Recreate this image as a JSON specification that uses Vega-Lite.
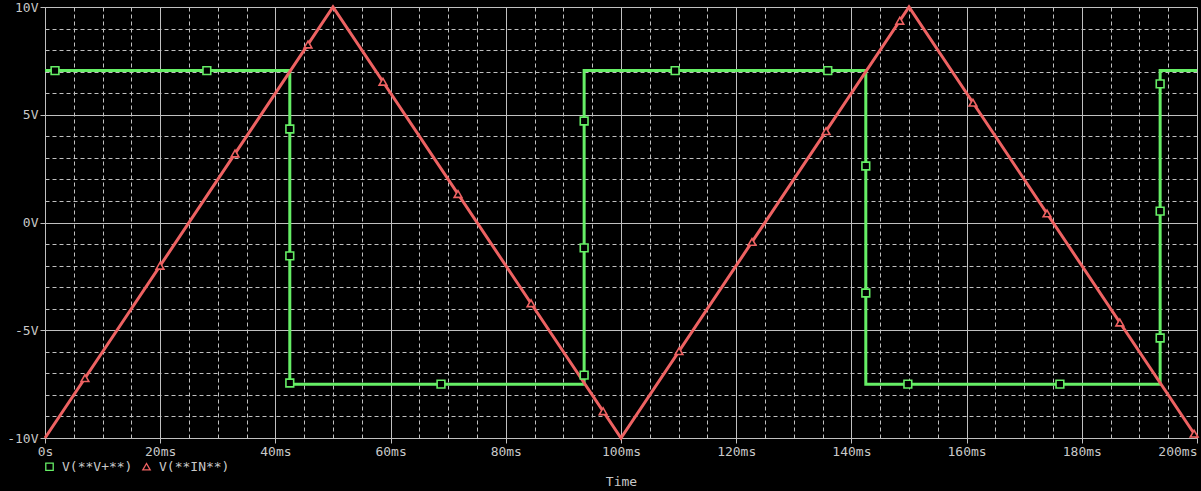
{
  "$schema": "https://vega.github.io/schema/vega-lite/v6.json",
  "background": "black",
  "autosize": {"type": "none"},
  "padding": {"left": 45, "top": 7, "right": 4, "bottom": 53},
  "width": 1152,
  "height": 431,
  "config": {
    "view": {"stroke": null},
    "axis": {
      "domainColor": "#c0c0c0",
      "gridColor": "#c0c0c0",
      "tickColor": "#c0c0c0",
      "labelFont": "DejaVu Sans Mono",
      "labelFontSize": 13,
      "labelColor": "#c8c8c8",
      "titleFont": "DejaVu Sans Mono",
      "titleFontSize": 13,
      "titleColor": "#c8c8c8",
      "titleFontWeight": "normal",
      "gridOpacity": 1,
      "gridWidth": 1
    },
    "legend": {
      "labelFont": "DejaVu Sans Mono",
      "labelFontSize": 13,
      "labelColor": "#c8c8c8"
    }
  },
  "datasets": {
    "lines": [
      {"series": "V(**V+**)", "step": 0, "t": 0, "v": 7.05},
      {"series": "V(**V+**)", "step": 1, "t": 42.5, "v": 7.05},
      {"series": "V(**V+**)", "step": 2, "t": 42.5, "v": -7.5},
      {"series": "V(**V+**)", "step": 3, "t": 93.6, "v": -7.5},
      {"series": "V(**V+**)", "step": 4, "t": 93.6, "v": 7.05},
      {"series": "V(**V+**)", "step": 5, "t": 142.5, "v": 7.05},
      {"series": "V(**V+**)", "step": 6, "t": 142.5, "v": -7.5},
      {"series": "V(**V+**)", "step": 7, "t": 193.6, "v": -7.5},
      {"series": "V(**V+**)", "step": 8, "t": 193.6, "v": 7.05},
      {"series": "V(**V+**)", "step": 9, "t": 200, "v": 7.05},
      {"series": "V(**IN**)", "step": 0, "t": 0, "v": -10},
      {"series": "V(**IN**)", "step": 1, "t": 50, "v": 10},
      {"series": "V(**IN**)", "step": 2, "t": 100, "v": -10},
      {"series": "V(**IN**)", "step": 3, "t": 150, "v": 10},
      {"series": "V(**IN**)", "step": 4, "t": 200, "v": -10}
    ],
    "markers": [
      {"series": "V(**V+**)", "t": 1.74, "v": 7.05},
      {"series": "V(**V+**)", "t": 28.1, "v": 7.05},
      {"series": "V(**V+**)", "t": 42.5, "v": 4.34},
      {"series": "V(**V+**)", "t": 42.5, "v": -1.55},
      {"series": "V(**V+**)", "t": 42.5, "v": -7.45},
      {"series": "V(**V+**)", "t": 68.75, "v": -7.5},
      {"series": "V(**V+**)", "t": 93.6, "v": 4.71},
      {"series": "V(**V+**)", "t": 93.6, "v": -1.18},
      {"series": "V(**V+**)", "t": 93.6, "v": -7.08},
      {"series": "V(**V+**)", "t": 109.4, "v": 7.05},
      {"series": "V(**V+**)", "t": 135.9, "v": 7.05},
      {"series": "V(**V+**)", "t": 142.5, "v": 2.62},
      {"series": "V(**V+**)", "t": 142.5, "v": -3.27},
      {"series": "V(**V+**)", "t": 149.8, "v": -7.5},
      {"series": "V(**V+**)", "t": 176.2, "v": -7.5},
      {"series": "V(**V+**)", "t": 193.6, "v": 6.43},
      {"series": "V(**V+**)", "t": 193.6, "v": 0.53},
      {"series": "V(**V+**)", "t": 193.6, "v": -5.36},
      {"series": "V(**IN**)", "t": 6.94, "v": -7.22},
      {"series": "V(**IN**)", "t": 19.97, "v": -2.01},
      {"series": "V(**IN**)", "t": 32.99, "v": 3.2},
      {"series": "V(**IN**)", "t": 45.66, "v": 8.26},
      {"series": "V(**IN**)", "t": 58.68, "v": 6.53},
      {"series": "V(**IN**)", "t": 71.7, "v": 1.32},
      {"series": "V(**IN**)", "t": 84.38, "v": -3.75},
      {"series": "V(**IN**)", "t": 96.9, "v": -8.76},
      {"series": "V(**IN**)", "t": 110.07, "v": -5.97},
      {"series": "V(**IN**)", "t": 122.74, "v": -0.9},
      {"series": "V(**IN**)", "t": 135.6, "v": 4.24},
      {"series": "V(**IN**)", "t": 148.4, "v": 9.36},
      {"series": "V(**IN**)", "t": 161.1, "v": 5.56},
      {"series": "V(**IN**)", "t": 173.96, "v": 0.42},
      {"series": "V(**IN**)", "t": 186.6, "v": -4.64},
      {"series": "V(**IN**)", "t": 199.5, "v": -9.8}
    ]
  },
  "encoding": {
    "x": {
      "field": "t",
      "type": "quantitative",
      "scale": {"domain": [0, 200], "nice": false, "zero": false},
      "axis": {
        "title": "Time",
        "titlePadding": 17,
        "values": [0,5,10,15,20,25,30,35,40,45,50,55,60,65,70,75,80,85,90,95,100,105,110,115,120,125,130,135,140,145,150,155,160,165,170,175,180,185,190,195,200],
        "labelExpr": "datum.value % 20 == 0 ? (datum.value == 0 ? '0s' : datum.value + 'ms') : ''",
        "gridDash": {"condition": {"test": "datum.value % 20 != 0", "value": [4, 3]}, "value": []},
        "tickOpacity": {"condition": {"test": "datum.value % 20 != 0", "value": 0}, "value": 1},
        "labelAlign": {"condition": {"test": "datum.value == 200", "value": "right"}, "value": "center"},
        "labelFlush": false,
        "labelOverlap": false,
        "tickSize": 5,
        "labelPadding": 2
      }
    },
    "y": {
      "field": "v",
      "type": "quantitative",
      "scale": {"domain": [-10, 10], "nice": false, "zero": false},
      "axis": {
        "title": null,
        "values": [-10,-9,-8,-7,-6,-5,-4,-3,-2,-1,0,1,2,3,4,5,6,7,8,9,10],
        "labelExpr": "datum.value % 5 == 0 ? datum.value + 'V' : ''",
        "gridDash": {"condition": {"test": "datum.value % 5 != 0", "value": [4, 3]}, "value": []},
        "tickOpacity": {"condition": {"test": "datum.value % 5 != 0", "value": 0}, "value": 1},
        "labelFlush": false,
        "labelOverlap": false,
        "tickSize": 5,
        "labelPadding": 2
      }
    },
    "color": {
      "field": "series",
      "type": "nominal",
      "scale": {"domain": ["V(**V+**)", "V(**IN**)"], "range": ["#66ee66", "#ee6262"]},
      "legend": {
        "title": null,
        "orient": "none",
        "legendX": -2,
        "legendY": 453,
        "direction": "horizontal",
        "symbolSize": 55,
        "symbolStrokeWidth": 1.3,
        "labelOffset": 6,
        "columnPadding": 7
      }
    }
  },
  "layer": [
    {
      "data": {"name": "lines"},
      "transform": [{"filter": "datum.series == 'V(**V+**)'"}],
      "mark": {"type": "line", "strokeWidth": 3},
      "encoding": {"order": {"field": "step", "type": "quantitative"}}
    },
    {
      "data": {"name": "lines"},
      "transform": [{"filter": "datum.series == 'V(**IN**)'"}],
      "mark": {"type": "line", "strokeWidth": 3},
      "encoding": {"order": {"field": "step", "type": "quantitative"}}
    },
    {
      "data": {"name": "markers"},
      "mark": {"type": "point", "filled": false, "fill": "black", "fillOpacity": 1, "size": 60, "strokeWidth": 1.6, "opacity": 1},
      "encoding": {
        "shape": {
          "field": "series",
          "type": "nominal",
          "scale": {"domain": ["V(**V+**)", "V(**IN**)"], "range": ["square", "triangle-up"]},
          "legend": {
            "title": null,
            "orient": "none",
            "legendX": -2,
            "legendY": 453,
            "direction": "horizontal",
            "symbolSize": 55,
            "symbolStrokeWidth": 1.3,
            "labelOffset": 6,
            "columnPadding": 7
          }
        }
      }
    }
  ]
}
